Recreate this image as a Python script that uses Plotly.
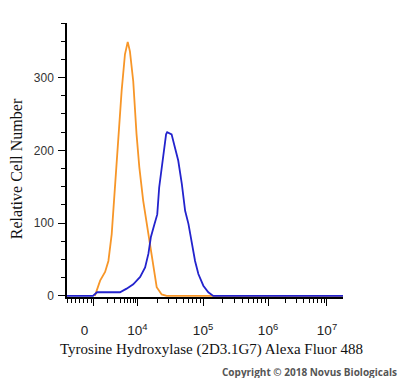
import numpy as np
import plotly.graph_objects as go

# ---- data (x in display channel units of the biexponential axis, y = cell count) ----
orange_x = [101, 120, 138, 150, 162, 174, 186, 198, 210, 220, 228, 240, 252, 262, 276, 289, 301, 313, 325, 343, 361, 1000]
orange_y = [0, 21, 33, 48, 85, 154, 222, 282, 332, 349, 336, 295, 222, 177, 131, 99, 67, 35, 12, 2, 0, 0]

blue_x = [0, 94, 109, 192, 216, 240, 265, 283, 295, 304, 315, 327, 334, 343, 351, 359, 363, 371, 379, 391, 403,
          416, 428, 440, 452, 464, 476, 494, 512, 530, 1000]
blue_y = [0, 0, 5, 5, 10, 16, 26, 39, 58, 81, 96, 112, 149, 177, 204, 222, 225, 224, 222, 204, 186,
          154, 117, 99, 71, 48, 30, 14, 5, 0, 0]

x_tick_labels = ["0", "10<sup>4</sup>", "10<sup>5</sup>", "10<sup>6</sup>", "10<sup>7</sup>"]
y_tick_values = [0, 100, 200, 300]

# ---- axis geometry (biexponential display positions) ----
zero_pos = 97.8
decade_pos = [254.7, 492.8, 728.3, 942.0]          # 10^4 .. 10^7
major_vals = [zero_pos] + decade_pos

minor_vals = list(np.arange(0, zero_pos - 5, 14.5))
segs = [(zero_pos, decade_pos[0])] + list(zip(decade_pos[:-1], decade_pos[1:]))
for a, b in segs:
    for k in range(2, 10):
        minor_vals.append(a + (b - a) * np.log10(k))

fig = go.Figure()
fig.add_trace(go.Scatter(x=orange_x, y=orange_y, mode="lines",
                         line=dict(color="rgb(247,150,40)", width=1.8), showlegend=False))
fig.add_trace(go.Scatter(x=blue_x, y=blue_y, mode="lines",
                         line=dict(color="rgb(35,35,205)", width=1.8), showlegend=False))

fig.update_layout(
    width=400, height=378,
    margin=dict(l=67, r=57, t=23, b=81, autoexpand=False),
    plot_bgcolor="white", paper_bgcolor="white",
    xaxis=dict(
        range=[0, 1000], showgrid=False, zeroline=False, automargin=False,
        showline=True, linecolor="black", linewidth=2, layer="below traces",
        tickmode="array", tickvals=major_vals,
        ticktext=["0\u00a0\u00a0\u00a0\u00a0\u00a0"] + x_tick_labels[1:],
        ticks="outside", ticklen=7, tickwidth=1.2, tickcolor="black",
        ticklabelstandoff=13,
        tickfont=dict(family="Liberation Sans", size=13.5, color="#222"),
        minor=dict(tickmode="array", tickvals=minor_vals, ticks="outside",
                   ticklen=4, tickwidth=1, tickcolor="black"),
    ),
    yaxis=dict(
        range=[-1.5, 375], showgrid=False, zeroline=False, automargin=False,
        showline=True, linecolor="black", linewidth=1.5, layer="below traces",
        tickmode="array", tickvals=y_tick_values,
        ticks="outside", ticklen=7, tickwidth=1.2, tickcolor="black",
        ticklabelstandoff=2,
        tickfont=dict(family="Liberation Sans", size=12, color="#333"),
        minor=dict(dtick=25, ticks="outside", ticklen=4, tickwidth=1, tickcolor="black"),
    ),
    annotations=[
        dict(text="Tyrosine Hydroxylase (2D3.1G7) Alexa Fluor 488", xref="paper", yref="paper",
             x=0.5236, y=-0.193, xanchor="center", yanchor="middle", showarrow=False,
             font=dict(family="Liberation Serif", size=15, color="#111")),
        dict(text="Relative Cell Number", xref="paper", yref="paper", textangle=-90,
             x=-0.185, y=0.47, xanchor="center", yanchor="middle", showarrow=False,
             font=dict(family="Liberation Serif", size=16, color="#111")),
        dict(text="<b>Copyright © 2018 Novus Biologicals</b>", xref="paper", yref="paper",
             x=1.203, y=-0.274, xanchor="right", yanchor="middle", showarrow=False,
             font=dict(family="Open Sans", size=10, color="#555")),
    ],
)

fig.write_html("out.html", config={"displayModeBar": False},
               post_script="document.body.style.margin='0';document.body.style.overflow='hidden';")
